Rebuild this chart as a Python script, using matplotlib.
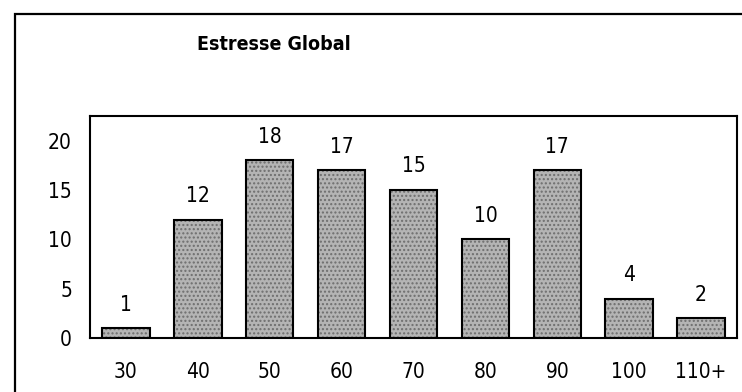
import matplotlib
matplotlib.use("Agg")
import matplotlib.pyplot as plt
from matplotlib.patches import Rectangle

categories = ["30", "40", "50", "60", "70", "80", "90", "100", "110+"]
counts = [1, 12, 18, 17, 15, 10, 17, 4, 2]
yticks = [0, 5, 10, 15, 20]
title = "Estresse Global"

plt.rcParams["font.family"] = ["DejaVu Sans"]
plt.rcParams["font.stretch"] = "condensed"

fig = plt.figure(figsize=(7.42, 3.92), dpi=100)
fig.patch.set_facecolor("white")

# outer chart frame (runs off the right and bottom edges)
fig.patches.append(Rectangle((15 / 742, -0.05), 1.0, 1 - 14 / 392 + 0.05,
                             transform=fig.transFigure, fill=False,
                             edgecolor="black", linewidth=1.6))

ax = fig.add_axes([90 / 742, 54 / 392, 647 / 742, 222 / 392])
x = list(range(len(categories)))
# stippled grey fill, then black outlines on top
ax.bar(x, counts, width=0.66, color="#b4b4b4", edgecolor="#6e6e6e",
       linewidth=0, hatch="....")
ax.bar(x, counts, width=0.66, fill=False, edgecolor="black", linewidth=1.5)

for xi, v in zip(x, counts):
    ax.annotate(str(v), (xi, v), xytext=(0, 17), textcoords="offset points",
                ha="center", va="center", fontsize=15)

ax.set_xlim(-0.5, len(categories) - 0.5)
ax.set_ylim(0, 22.5)
ax.set_yticks(yticks)
ax.set_xticks(x)
ax.set_xticklabels(categories)
ax.tick_params(length=0, labelsize=15)
ax.tick_params(axis="y", pad=13)
ax.tick_params(axis="x", pad=17)
for s in ax.spines.values():
    s.set_linewidth(1.5)
    s.set_color("black")

fig.text(274 / 742, 1 - 44 / 392, title, ha="center", va="center",
         fontsize=14, fontweight="bold")

fig.savefig("out.png", dpi=100)
